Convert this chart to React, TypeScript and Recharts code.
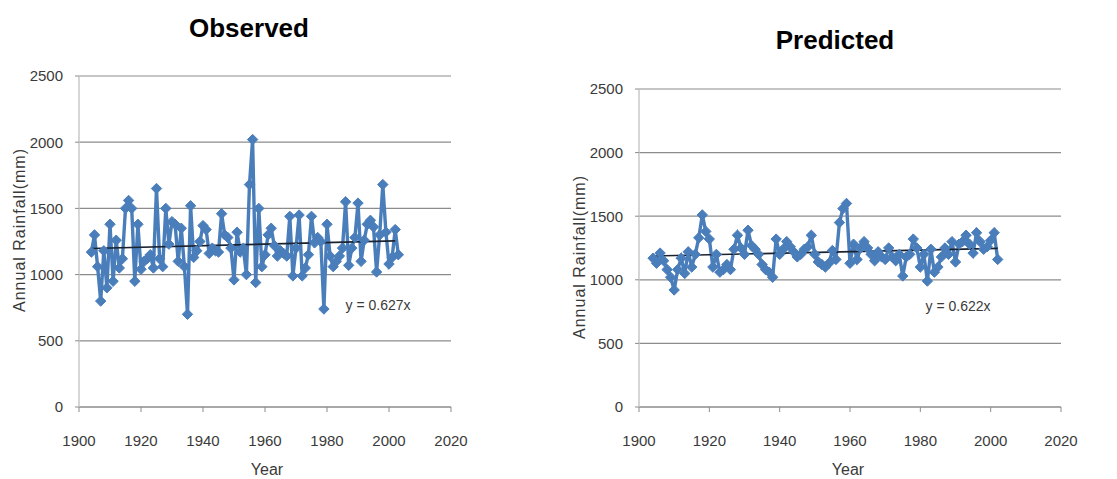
import { LineChart, Line, XAxis, YAxis, CartesianGrid } from "recharts";

// years covered by the records
const years = [
    1904, 1905, 1906, 1907, 1908, 1909, 1910, 1911, 1912, 1913,
    1914, 1915, 1916, 1917, 1918, 1919, 1920, 1921, 1922, 1923,
    1924, 1925, 1926, 1927, 1928, 1929, 1930, 1931, 1932, 1933,
    1934, 1935, 1936, 1937, 1938, 1939, 1940, 1941, 1942, 1943,
    1944, 1945, 1946, 1947, 1948, 1949, 1950, 1951, 1952, 1953,
    1954, 1955, 1956, 1957, 1958, 1959, 1960, 1961, 1962, 1963,
    1964, 1965, 1966, 1967, 1968, 1969, 1970, 1971, 1972, 1973,
    1974, 1975, 1976, 1977, 1978, 1979, 1980, 1981, 1982, 1983,
    1984, 1985, 1986, 1987, 1988, 1989, 1990, 1991, 1992, 1993,
    1994, 1995, 1996, 1997, 1998, 1999, 2000, 2001, 2002, 2003,
];

const observed = [
    1170, 1300, 1060, 800, 1180, 900, 1380, 950, 1260, 1050,
    1120, 1500, 1560, 1500, 950, 1380, 1040, 1100, 1120, 1150,
    1050, 1650, 1120, 1060, 1500, 1230, 1400, 1380, 1100, 1350,
    1060, 700, 1520, 1130, 1180, 1250, 1370, 1340, 1160, 1200,
    1180, 1170, 1460, 1300, 1280, 1200, 960, 1320, 1170, 1200,
    1000, 1680, 2020, 940, 1500, 1060, 1150, 1300, 1350, 1220,
    1140, 1180, 1160, 1140, 1440, 990, 1200, 1450, 990, 1050,
    1150, 1440, 1240, 1280, 1250, 740, 1380, 1140, 1060, 1100,
    1140, 1200, 1550, 1070, 1200, 1280, 1540, 1100, 1260, 1380,
    1410, 1360, 1020, 1300, 1680, 1320, 1080, 1130, 1340, 1150,
];

const predicted = [
    1170, 1130, 1210, 1150, 1080, 1020, 920, 1080, 1170, 1050,
    1220, 1100, 1200, 1330, 1510, 1380, 1320, 1100, 1200, 1060,
    1080, 1120, 1080, 1240, 1350, 1250, 1200, 1390, 1270, 1240,
    1200, 1120, 1080, 1060, 1020, 1320, 1200, 1240, 1300, 1260,
    1220, 1180, 1200, 1240, 1260, 1350, 1200, 1140, 1120, 1100,
    1130, 1230, 1160, 1450, 1560, 1600, 1130, 1280, 1160, 1250,
    1300, 1250, 1200, 1150, 1220, 1180, 1160, 1250, 1180, 1150,
    1200, 1030, 1180, 1200, 1320, 1250, 1100, 1200, 990, 1240,
    1060, 1100, 1180, 1250, 1200, 1300, 1140, 1280, 1300, 1350,
    1280, 1210, 1370, 1300, 1240, 1260, 1310, 1370, 1160,
];

// trendline end points [year, value]
const trendObserved = [[1904, 1197], [2002, 1255]];
const trendPredicted = [[1904, 1187], [2002, 1247]];

const xTicks = [1900, 1920, 1940, 1960, 1980, 2000, 2020];
const yTicks = [0, 500, 1000, 1500, 2000, 2500];

const BLUE = "#4a7ebb";
const GRID = "#8c8c8c";
const FONT = "'Liberation Sans', Arial, sans-serif";

const Diamond = (props: any) => {
    const { cx, cy, index } = props;
    if (cx == null || cy == null) return null;
    const r = 5.2;
    return (
        <path
            key={`dm-${index}`}
            d={`M${cx},${cy - r} L${cx + r},${cy} L${cx},${cy + r} L${cx - r},${cy} Z`}
            fill={BLUE}
            stroke={BLUE}
            strokeWidth={1}
        />
    );
};

interface PanelProps {
    left: number;
    width: number;
    top: number;
    right: number;
    values: number[];
    trend: number[][];
    title: string;
    titleX: number;
    titleY: number;
    yLabelX: number;
    yLabelY: number;
    yearX: number;
    eq: string;
    eqX: number;
    eqY: number;
}

function Panel(p: PanelProps) {
    const rows = p.values.map((v, i) => ({ year: years[i], rain: v }));
    const trendRows = p.trend.map(([y, v]) => ({ year: y, trend: v }));
    const tickStyle = { fill: "#3a3a3a", fontSize: 15, fontFamily: FONT };

    return (
        <>
            <div style={{ position: "absolute", left: p.left, top: 0 }}>
                <LineChart
                    width={p.width}
                    height={479}
                    data={rows}
                    margin={{ top: p.top, right: p.right, left: 19, bottom: 22 }}
                >
                    <CartesianGrid vertical={false} stroke={GRID} strokeWidth={1.2} />
                    <XAxis
                        dataKey="year"
                        type="number"
                        domain={[1900, 2020]}
                        ticks={xTicks}
                        interval={0}
                        tick={tickStyle}
                        stroke={GRID}
                        tickSize={5}
                        tickMargin={23}
                        height={50}
                    />
                    <YAxis
                        type="number"
                        domain={[0, 2500]}
                        ticks={yTicks}
                        interval={0}
                        tick={tickStyle}
                        axisLine={{ stroke: "#c8c8c8", strokeWidth: 1.5 }}
                        tickLine={{ stroke: GRID }}
                        tickSize={4}
                        tickMargin={12}
                        width={60}
                    />
                    <Line
                        dataKey="rain"
                        stroke={BLUE}
                        strokeWidth={3.4}
                        dot={Diamond}
                        activeDot={false}
                        isAnimationActive={false}
                    />
                    <Line
                        data={trendRows}
                        dataKey="trend"
                        stroke="#1c2330"
                        strokeWidth={1.6}
                        dot={false}
                        activeDot={false}
                        isAnimationActive={false}
                    />
                </LineChart>
            </div>
            <div
                style={{
                    position: "absolute",
                    left: p.titleX - 100,
                    top: p.titleY - 16,
                    width: 200,
                    textAlign: "center",
                    fontFamily: FONT,
                    fontWeight: "bold",
                    fontSize: 26,
                    lineHeight: "32px",
                    color: "#000",
                }}
            >
                {p.title}
            </div>
            <div
                style={{
                    position: "absolute",
                    left: p.yLabelX - 110,
                    top: p.yLabelY - 10,
                    width: 220,
                    height: 20,
                    lineHeight: "20px",
                    textAlign: "center",
                    transform: "rotate(-90deg)",
                    fontFamily: FONT,
                    fontSize: 16,
                    letterSpacing: 1,
                    color: "#3a3a3a",
                }}
            >
                Annual Rainfall(mm)
            </div>
            <div
                style={{
                    position: "absolute",
                    left: p.yearX - 40,
                    top: 461,
                    width: 80,
                    textAlign: "center",
                    fontFamily: FONT,
                    fontSize: 16,
                    lineHeight: "18px",
                    color: "#3a3a3a",
                }}
            >
                Year
            </div>
            <div
                style={{
                    position: "absolute",
                    left: p.eqX - 50,
                    top: p.eqY - 9,
                    width: 100,
                    textAlign: "center",
                    fontFamily: FONT,
                    fontSize: 14,
                    lineHeight: "18px",
                    color: "#3a3a3a",
                }}
            >
                {p.eq}
            </div>
        </>
    );
}

export default function App() {
    return (
        <div
            style={{
                position: "absolute",
                left: 0,
                top: 0,
                width: 1117,
                height: 479,
                background: "#fff",
                overflow: "hidden",
            }}
        >
            <Panel
                left={0}
                width={560}
                top={76}
                right={109}
                values={observed}
                trend={trendObserved}
                title="Observed"
                titleX={249}
                titleY={28}
                yLabelX={20}
                yLabelY={230}
                yearX={267}
                eq="y = 0.627x"
                eqX={378}
                eqY={305}
            />
            <Panel
                left={560}
                width={557}
                top={89}
                right={56}
                values={predicted}
                trend={trendPredicted}
                title="Predicted"
                titleX={835}
                titleY={40}
                yLabelX={580}
                yLabelY={257}
                yearX={848}
                eq="y = 0.622x"
                eqX={958}
                eqY={306}
            />
        </div>
    );
}
